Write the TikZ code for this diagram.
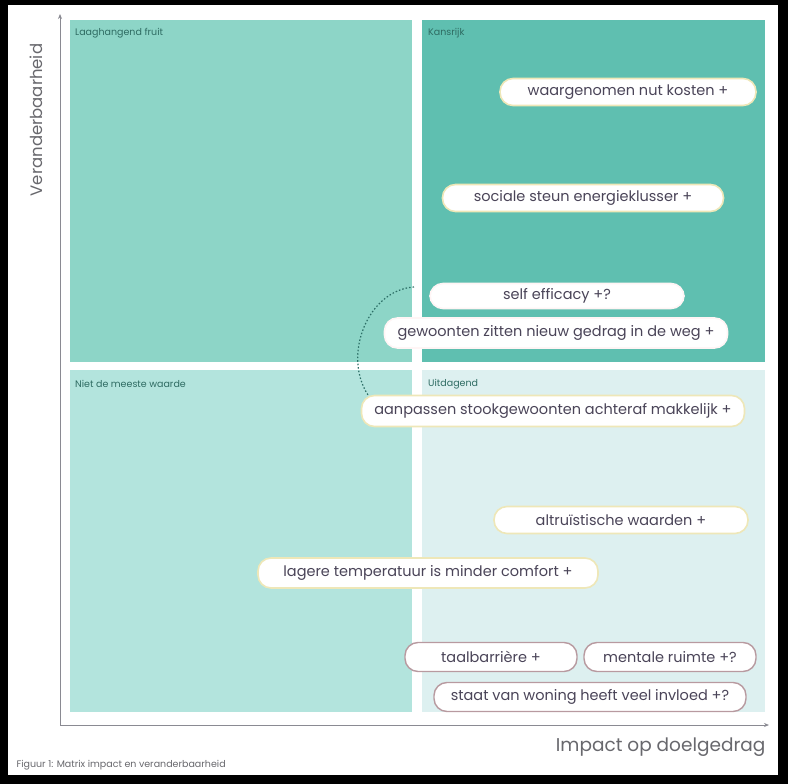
\documentclass[tikz,border=0pt]{standalone}
\usepackage{fontspec}
\setmainfont{Poppins}
\usetikzlibrary{arrows.meta}
\definecolor{qtl}{HTML}{8DD5C7}
\definecolor{qtr}{HTML}{5FBFB0}
\definecolor{qbl}{HTML}{B3E4DD}
\definecolor{qbr}{HTML}{DDF0F0}
\definecolor{txt}{HTML}{4A4458}
\definecolor{qlab}{HTML}{2E6B62}
\definecolor{bordy}{HTML}{EEE7B8}
\definecolor{bordr}{HTML}{B89AA0}
\definecolor{axis}{HTML}{8A8A92}
\definecolor{arcc}{HTML}{2C6E66}
\tikzset{
  qlabel/.style={anchor=west, font=\fontsize{9.5}{11}\selectfont, text=qlab, inner sep=0pt},
  pill/.style={draw=bordy, line width=1.6pt, fill=white, rounded corners=13pt,
    minimum height=27pt, inner sep=0pt, text=txt, font=\fontsize{14.5}{16}\selectfont},
  pillr/.style={pill, draw=bordr, line width=1.4pt},
  axisline/.style={draw=axis, line width=0.9pt, -{Stealth[length=5pt,width=4pt]}},
  arcline/.style={draw=arcc, line width=1.2pt, dash pattern=on 1.5pt off 2pt}
}
\begin{document}
\begin{tikzpicture}[x=1pt,y=-1pt]
\useasboundingbox (0,0) rectangle (788,784);
\fill[black] (0,0) rectangle (788,784);
\fill[white] (8,5) rectangle (778,775);
% quadrants
\fill[qtl] (70,20) rectangle (412,362);
\fill[qtr] (422,20) rectangle (765,362);
\fill[qbl] (70,370) rectangle (412,712);
\fill[qbr] (422,370) rectangle (765,712);
\node[qlabel] (lq1) at (75,33) {Laaghangend fruit};
\node[qlabel] (lq2) at (428,33) {Kansrijk};
\node[qlabel] (lq3) at (75,384) {Niet de meeste waarde};
\node[qlabel] (lq4) at (428,384) {Uitdagend};
% axes
\coordinate (o) at (60,725);
\coordinate (ytop) at (60,14);
\coordinate (xend) at (769,725);
\draw[axisline] (o) -- (ytop);
\draw[axisline] (o) -- (xend);
\node[rotate=90, font=\fontsize{16.5}{18}\selectfont, text=axis!75!black] (ylab) at (36,120) {Veranderbaarheid};
\node[anchor=east, font=\fontsize{18.5}{20}\selectfont, text=axis!75!black] (xlab) at (769,747) {Impact op doelgedrag};
\node[anchor=west, font=\fontsize{9.5}{10}\selectfont, text=axis!75!black] (cap) at (13,765) {Figuur 1: Matrix impact en veranderbaarheid};
% pills
\node[pill, minimum width=256pt] (p1) at (628,92) {waargenomen nut kosten +};
\node[pill, minimum width=281pt] (p2) at (583,198) {sociale steun energieklusser +};
\node[pill, minimum width=254pt, minimum height=25pt, draw=white!85!pink] (p3) at (557,296) {self efficacy +?};
\node[pill, minimum width=343pt, minimum height=30pt, draw=white!85!pink] (p4) at (556,333) {gewoonten zitten nieuw gedrag in de weg +};
\node[pill, minimum width=383pt, minimum height=31pt] (p5) at (553,411) {aanpassen stookgewoonten achteraf makkelijk +};
\node[pill, minimum width=254pt] (p6) at (621,520) {altruïstische waarden +};
\node[pill, minimum width=340pt, minimum height=30pt] (p7) at (428,573) {lagere temperatuur is minder comfort +};
\node[pillr, minimum width=172pt, minimum height=29pt] (p8) at (491,657) {taalbarrière +};
\node[pillr, minimum width=172pt, minimum height=29pt] (p9) at (670,657) {mentale ruimte +?};
\node[pillr, minimum width=312pt, minimum height=29pt] (p10) at (590,697) {staat van woning heeft veel invloed +?};
% dotted arc
\coordinate (a1) at (414,287);
\coordinate (a2) at (368,395);
\draw[arcline] (a1) .. controls (368,290) and (342,355) .. (a2);
\end{tikzpicture}
\end{document}
